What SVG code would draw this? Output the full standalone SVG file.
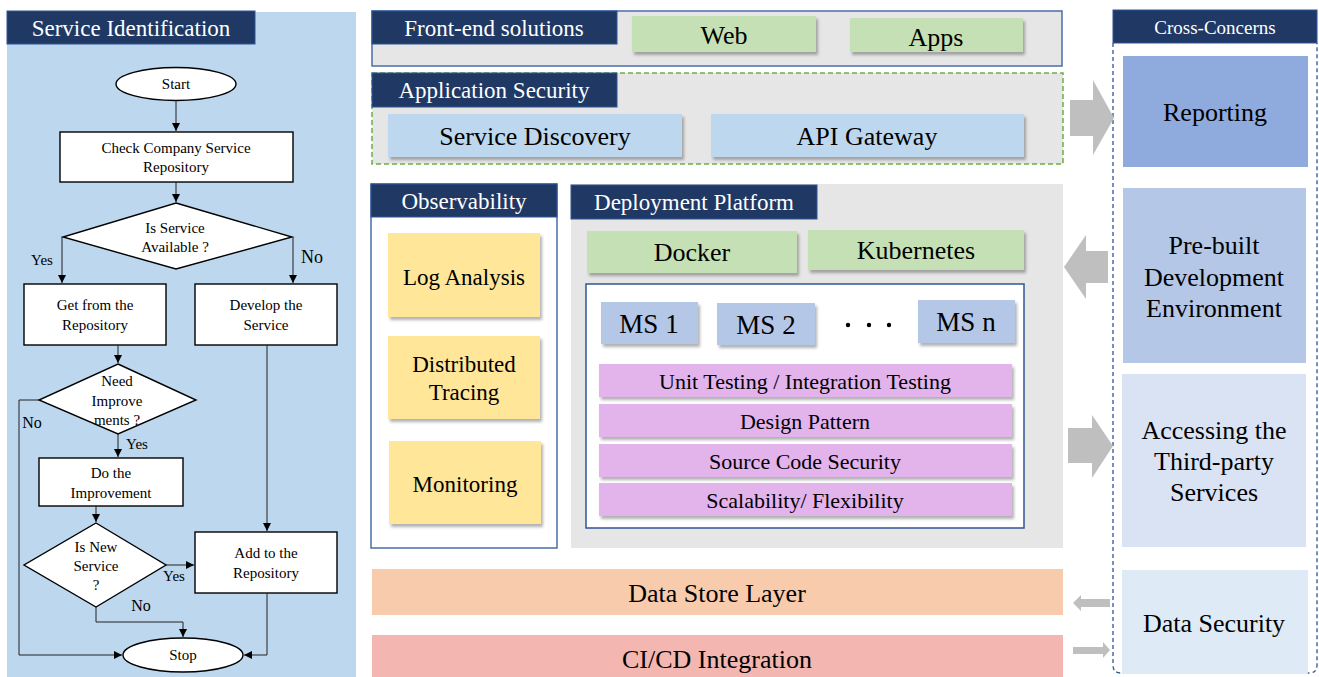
<svg xmlns="http://www.w3.org/2000/svg" width="1319" height="677" viewBox="0 0 1319 677">
  <style>
    text { font-family: "Liberation Serif", "Times New Roman", serif; fill: #000; }
    .c { text-anchor: middle; dominant-baseline: central; }
    .fc { font-size: 15px; }
    .lbl { font-size: 15px; }
    .title { fill: #1f3864; stroke: #2f5597; stroke-width: 1; }
    .ttext { fill: #fff; font-size: 23px; }
    .box { fill: #fff; stroke: #000; stroke-width: 1.4; }
    .wire { fill: none; stroke: #222; stroke-width: 1; }
    .panel { fill: #e6e6e6; }
    .green { fill: #c5e0b4; }
    .lblue { fill: #bdd7ee; }
    .yellow { fill: #ffe699; }
    .ms { fill: #b4c7e7; }
    .pink { fill: #e3b3ec; }
    .big { font-size: 26px; }
    .mid { font-size: 23px; }
    .sm { font-size: 22px; }
    .garrow { fill: #bfbfbf; }
  </style>
  <defs>
    <marker id="ah" markerUnits="userSpaceOnUse" markerWidth="9" markerHeight="9" refX="8" refY="4" orient="auto">
      <path d="M0,0 L8,4 L0,8 z" fill="#000"/>
    </marker>
    <filter id="sh" x="-5%" y="-10%" width="115%" height="140%">
      <feDropShadow dx="2" dy="3" stdDeviation="1.4" flood-color="#000" flood-opacity="0.3"/>
    </filter>
  </defs>

  <!-- Left panel: service identification flowchart -->
  <g id="service-identification">
    <rect x="7" y="12" width="349" height="665" fill="#bdd7ee"/>
    <rect class="title" x="7" y="11" width="248" height="33"/>
    <text class="c ttext" x="131" y="28">Service Identification</text>
  </g>

  <g id="fc-start">
    <ellipse class="box" cx="176" cy="84" rx="60" ry="16.5"/>
    <text class="c fc" x="176" y="84">Start</text>
  </g>
  <g id="fc-check">
    <rect class="box" x="60" y="132" width="233" height="50"/>
    <text class="c fc" x="176" y="148">Check Company Service</text>
    <text class="c fc" x="176" y="167">Repository</text>
  </g>
  <g id="fc-available">
    <polygon class="box" points="176,203 292,237 176,269 63,237"/>
    <text class="c fc" x="175" y="228">Is Service</text>
    <text class="c fc" x="175" y="247">Available ?</text>
  </g>
  <g id="fc-get">
    <rect class="box" x="24" y="284" width="142" height="61"/>
    <text class="c fc" x="95" y="305">Get from the</text>
    <text class="c fc" x="95" y="325">Repository</text>
  </g>
  <g id="fc-develop">
    <rect class="box" x="195" y="284" width="142" height="61"/>
    <text class="c fc" x="266" y="305">Develop the</text>
    <text class="c fc" x="266" y="325">Service</text>
  </g>
  <g id="fc-improve-q">
    <polygon class="box" points="118,364 196,400 118,434 39,400"/>
    <text class="c fc" x="117" y="381">Need</text>
    <text class="c fc" x="117" y="401">Improve</text>
    <text class="c fc" x="117" y="420">ments ?</text>
  </g>
  <g id="fc-improvement">
    <rect class="box" x="39" y="458" width="144" height="48"/>
    <text class="c fc" x="111" y="473">Do the</text>
    <text class="c fc" x="111" y="493">Improvement</text>
  </g>
  <g id="fc-new-q">
    <polygon class="box" points="96,523 166,565 96,607 24,565"/>
    <text class="c fc" x="96" y="547">Is New</text>
    <text class="c fc" x="96" y="566">Service</text>
    <text class="c fc" x="96" y="585">?</text>
  </g>
  <g id="fc-add">
    <rect class="box" x="195" y="532" width="142" height="61"/>
    <text class="c fc" x="266" y="553">Add to the</text>
    <text class="c fc" x="266" y="573">Repository</text>
  </g>
  <g id="fc-stop">
    <ellipse class="box" cx="183" cy="655" rx="60" ry="17"/>
    <text class="c fc" x="183" y="655">Stop</text>
  </g>

  <!-- Flowchart connectors -->
  <g id="fc-connectors">
    <path class="wire" d="M176,100.5 V131" marker-end="url(#ah)"/>
    <path class="wire" d="M176,182 V202" marker-end="url(#ah)"/>
    <path class="wire" d="M62,237 V283" marker-end="url(#ah)"/>
    <path class="wire" d="M293,237 V283" marker-end="url(#ah)"/>
    <path class="wire" d="M118,345 V363" marker-end="url(#ah)"/>
    <path class="wire" d="M39,400 H19 V655 H122" marker-end="url(#ah)"/>
    <path class="wire" d="M118,434 V457" marker-end="url(#ah)"/>
    <path class="wire" d="M96,506 V522" marker-end="url(#ah)"/>
    <path class="wire" d="M166,565 H194" marker-end="url(#ah)"/>
    <path class="wire" d="M96,607 V622 H183 V637" marker-end="url(#ah)"/>
    <path class="wire" d="M267,345 V531" marker-end="url(#ah)"/>
    <path class="wire" d="M267,593 V655 H244" marker-end="url(#ah)"/>
    <text class="c lbl" x="42" y="260">Yes</text>
    <text class="c" x="312" y="257" font-size="18">No</text>
    <text class="c" x="32" y="422" font-size="16">No</text>
    <text class="c lbl" x="137" y="444">Yes</text>
    <text class="c lbl" x="174" y="576">Yes</text>
    <text class="c" x="141" y="605" font-size="16">No</text>
  </g>

  <!-- Front-end solutions -->
  <g id="front-end">
    <rect class="panel" x="372" y="11" width="690" height="55" stroke="#4a6ea9" stroke-width="1.5"/>
    <rect class="title" x="372" y="11" width="245" height="33"/>
    <text class="c ttext" x="494" y="28">Front-end solutions</text>
  </g>
  <g id="web">
    <rect class="green" x="632" y="16" width="184" height="36" filter="url(#sh)"/>
    <text class="c big" x="724" y="35">Web</text>
  </g>
  <g id="apps">
    <rect class="green" x="850" y="18" width="173" height="34" filter="url(#sh)"/>
    <text class="c big" x="936" y="37">Apps</text>
  </g>

  <!-- Application security -->
  <g id="app-security">
    <rect class="panel" x="372" y="73" width="691" height="91" stroke="#70ad47" stroke-width="1.5" stroke-dasharray="5 3"/>
    <rect class="title" x="372" y="73" width="245" height="34"/>
    <text class="c ttext" x="494" y="90">Application Security</text>
  </g>
  <g id="service-discovery">
    <rect class="lblue" x="388" y="114" width="294" height="43" filter="url(#sh)"/>
    <text class="c big" x="535" y="136">Service Discovery</text>
  </g>
  <g id="api-gateway">
    <rect class="lblue" x="711" y="114" width="313" height="43" filter="url(#sh)"/>
    <text class="c big" x="867" y="136">API Gateway</text>
  </g>

  <!-- Observability -->
  <g id="observability">
    <rect x="371" y="184" width="186" height="364" fill="#fff" stroke="#4a6ea9" stroke-width="1.5"/>
    <rect class="title" x="371" y="184" width="186" height="33"/>
    <text class="c ttext" x="464" y="201">Observability</text>
  </g>
  <g id="log-analysis">
    <rect class="yellow" x="388" y="233" width="152" height="84" filter="url(#sh)"/>
    <text class="c mid" x="464" y="277">Log Analysis</text>
  </g>
  <g id="distributed-tracing">
    <rect class="yellow" x="388" y="336" width="152" height="83" filter="url(#sh)"/>
    <text class="c mid" x="464" y="364">Distributed</text>
    <text class="c mid" x="464" y="392">Tracing</text>
  </g>
  <g id="monitoring">
    <rect class="yellow" x="389" y="441" width="152" height="83" filter="url(#sh)"/>
    <text class="c mid" x="465" y="484">Monitoring</text>
  </g>

  <!-- Deployment platform -->
  <g id="deployment-platform">
    <rect class="panel" x="571" y="184" width="492" height="364"/>
    <rect class="title" x="571" y="185" width="246" height="34"/>
    <text class="c ttext" x="694" y="202">Deployment Platform</text>
  </g>
  <g id="docker">
    <rect class="green" x="587" y="231" width="210" height="42" filter="url(#sh)"/>
    <text class="c big" x="692" y="252">Docker</text>
  </g>
  <g id="kubernetes">
    <rect class="green" x="808" y="230" width="216" height="40" filter="url(#sh)"/>
    <text class="c big" x="916" y="250">Kubernetes</text>
  </g>
  <g id="services">
    <rect x="586" y="284" width="438" height="244" fill="#fff" stroke="#2f5597" stroke-width="1.5"/>
  </g>
  <g id="ms-1">
    <rect class="ms" x="601" y="302" width="97" height="42" filter="url(#sh)"/>
    <text class="c" x="649" y="324" font-size="27">MS 1</text>
  </g>
  <g id="ms-2">
    <rect class="ms" x="717" y="303" width="98" height="42" filter="url(#sh)"/>
    <text class="c" x="766" y="325" font-size="27">MS 2</text>
  </g>
  <g id="ms-dots">
    <circle cx="848" cy="325" r="2.2" fill="#000"/>
    <circle cx="869" cy="325" r="2.2" fill="#000"/>
    <circle cx="889" cy="325" r="2.2" fill="#000"/>
  </g>
  <g id="ms-n">
    <rect class="ms" x="918" y="300" width="97" height="43" filter="url(#sh)"/>
    <text class="c" x="966" y="322" font-size="27">MS n</text>
  </g>
  <g id="testing">
    <rect class="pink" x="599" y="364" width="413" height="33" filter="url(#sh)"/>
    <text class="c sm" x="805" y="381">Unit Testing / Integration Testing</text>
  </g>
  <g id="design-pattern">
    <rect class="pink" x="599" y="404" width="413" height="33" filter="url(#sh)"/>
    <text class="c sm" x="805" y="421">Design Pattern</text>
  </g>
  <g id="source-code-security">
    <rect class="pink" x="599" y="444" width="413" height="33" filter="url(#sh)"/>
    <text class="c sm" x="805" y="461">Source Code Security</text>
  </g>
  <g id="scalability">
    <rect class="pink" x="599" y="483" width="413" height="33" filter="url(#sh)"/>
    <text class="c sm" x="805" y="500">Scalability/ Flexibility</text>
  </g>

  <!-- Bottom layers -->
  <g id="data-store">
    <rect x="372" y="569" width="691" height="46" fill="#f8cbad"/>
    <text class="c big" x="717" y="593">Data Store Layer</text>
  </g>
  <g id="cicd">
    <rect x="372" y="635" width="691" height="42" fill="#f3b6b1"/>
    <text class="c big" x="717" y="659">CI/CD Integration</text>
  </g>

  <!-- Cross-cutting concerns -->
  <g id="cross-concerns">
    <path d="M1113,43 V665 Q1113,673 1121,673 H1309 Q1317,673 1317,665 V43" fill="none" stroke="#2f5597" stroke-width="1.3" stroke-dasharray="4 3"/>
    <rect class="title" x="1113" y="10" width="204" height="33"/>
    <text class="c" x="1215" y="27" font-size="19" fill="#fff" style="fill:#fff">Cross-Concerns</text>
  </g>
  <g id="reporting">
    <rect x="1123" y="56" width="185" height="111" fill="#8faadc"/>
    <text class="c big" x="1215" y="112">Reporting</text>
  </g>
  <g id="pre-built">
    <rect x="1123" y="188" width="183" height="175" fill="#b4c7e7"/>
    <text class="c big" x="1214" y="245">Pre-built</text>
    <text class="c big" x="1214" y="277">Development</text>
    <text class="c big" x="1214" y="308">Environment</text>
  </g>
  <g id="third-party">
    <rect x="1122" y="374" width="184" height="173" fill="#dae3f3"/>
    <text class="c big" x="1214" y="430">Accessing the</text>
    <text class="c big" x="1214" y="461">Third-party</text>
    <text class="c big" x="1214" y="492">Services</text>
  </g>
  <g id="data-security">
    <rect x="1122" y="570" width="186" height="104" fill="#deebf7"/>
    <text class="c big" x="1214" y="623">Data Security</text>
  </g>

  <!-- Block arrows between the layers and the cross-concerns -->
  <g id="connectors">
    <polygon class="garrow" points="1070,100 1093,100 1093,80 1114,118 1093,155 1093,136 1070,136"/>
    <polygon class="garrow" points="1108,251 1086,251 1086,235 1064,267 1086,299 1086,283 1108,283"/>
    <polygon class="garrow" points="1068,428 1092,428 1092,415 1113,446 1092,478 1092,463 1068,463"/>
    <polygon class="garrow" points="1110,599 1081,599 1081,595 1073,603 1081,611 1081,607 1110,607"/>
    <polygon class="garrow" points="1073,647 1103,647 1103,642 1110,650 1103,658 1103,654 1073,654"/>
  </g>
</svg>
